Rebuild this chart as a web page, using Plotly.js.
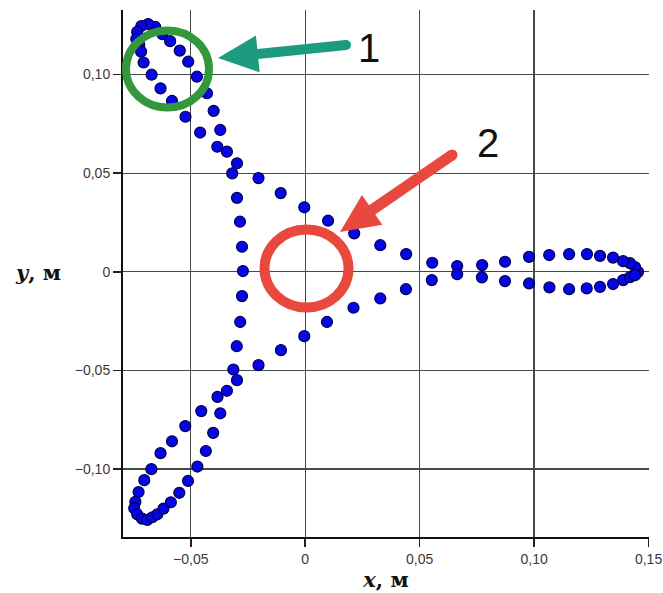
<!DOCTYPE html>
<html>
<head>
<meta charset="utf-8">
<script src="https://cdn.plot.ly/plotly-3.0.1.min.js"></script>
<style>html,body{margin:0;padding:0;background:#fff;}#chart{width:663px;height:593px;}</style>
</head>
<body>
<div id="chart"></div>
<script>
// ---- data, metres ----
const xs = [
  0.1454, 0.1441, 0.1419, 0.1389, 0.1345, 0.1288, 0.1231, 0.1153, 0.1066, 0.0978,
  0.0873, 0.0773, 0.0664, 0.0555, 0.0441, 0.0328, 0.0214, 0.0100, -0.0004, -0.0107,
  -0.0204, -0.0298, -0.0342, -0.0371, -0.0400, -0.0429, -0.0473, -0.0511, -0.0548, -0.0590,
  -0.0624, -0.0655, -0.0686, -0.0716, -0.0734, -0.0738, -0.0725, -0.0717, -0.0706, -0.0671,
  -0.0632, -0.0582, -0.0523, -0.0459, -0.0384, -0.0319, -0.0298, -0.0285, -0.0276, -0.0272,
  -0.0276, -0.0284, -0.0299, -0.0314, -0.0383, -0.0454, -0.0524, -0.0582, -0.0632, -0.0672,
  -0.0703, -0.0728, -0.0742, -0.0747, -0.0734, -0.0713, -0.0690, -0.0668, -0.0646, -0.0619,
  -0.0587, -0.0550, -0.0512, -0.0471, -0.0434, -0.0402, -0.0371, -0.0342, -0.0298, -0.0204,
  -0.0106, -0.0004, 0.0095, 0.0211, 0.0328, 0.0440, 0.0553, 0.0664, 0.0772, 0.0873,
  0.0978, 0.1067, 0.1153, 0.1230, 0.1288, 0.1345, 0.1389, 0.1419, 0.1441
];
const ys = [
  0.0000, 0.0024, 0.0044, 0.0054, 0.0072, 0.0081, 0.0090, 0.0090, 0.0085, 0.0076,
  0.0051, 0.0034, 0.0029, 0.0046, 0.0090, 0.0135, 0.0195, 0.0259, 0.0327, 0.0399,
  0.0475, 0.0550, 0.0609, 0.0719, 0.0816, 0.0905, 0.0989, 0.1065, 0.1121, 0.1169,
  0.1205, 0.1241, 0.1256, 0.1246, 0.1216, 0.1180, 0.1150, 0.1116, 0.1061, 0.0999,
  0.0930, 0.0866, 0.0786, 0.0706, 0.0634, 0.0499, 0.0375, 0.0254, 0.0127, 0.0004,
  -0.0123, -0.0254, -0.0377, -0.0495, -0.0634, -0.0706, -0.0782, -0.0859, -0.0919, -0.1000,
  -0.1056, -0.1116, -0.1166, -0.1198, -0.1229, -0.1251, -0.1257, -0.1244, -0.1229, -0.1200,
  -0.1168, -0.1120, -0.1060, -0.0987, -0.0908, -0.0816, -0.0717, -0.0603, -0.0549, -0.0473,
  -0.0397, -0.0326, -0.0254, -0.0182, -0.0135, -0.0088, -0.0042, -0.0012, -0.0028, -0.0047,
  -0.0059, -0.0079, -0.0088, -0.0084, -0.0076, -0.0062, -0.0042, -0.0027, -0.0017
];
const xTickVals = [-0.05, 0, 0.05, 0.10, 0.15];
const xTickText = ['\u22120,05', '0', '0,05', '0,10', '0,15'];
const yTickVals = [-0.10, -0.05, 0, 0.05, 0.10];
const yTickText = ['\u22120,10', '\u22120,05', '0', '0,05', '0,10'];
const xTitle = '<b><i>x</i>, м</b>';
const yTitle = '<b><i>y</i>, м</b>';
const label1 = '1';
const label2 = '2';

// ---- layout geometry (pixels) ----
const W = 663, H = 593;
const M = {l: 123, r: 14, t: 10, b: 56};
const PW = W - M.l - M.r, PH = H - M.t - M.b;
const px = v => (v - M.l) / PW;
const py = v => (H - M.b - v) / PH;

function arrowPath(tip, tail, headLen, headHalf, shaftHalf) {
  const dx = tail[0] - tip[0], dy = tail[1] - tip[1];
  const L = Math.hypot(dx, dy), ux = dx / L, uy = dy / L;
  const nx = -uy, ny = ux;
  const bx = tip[0] + ux * headLen, by = tip[1] + uy * headLen;
  const pts = [
    tip,
    [bx + nx * headHalf, by + ny * headHalf],
    [bx + nx * shaftHalf, by + ny * shaftHalf],
    [tail[0] + nx * shaftHalf, tail[1] + ny * shaftHalf],
    [tail[0] - nx * shaftHalf, tail[1] - ny * shaftHalf],
    [bx - nx * shaftHalf, by - ny * shaftHalf],
    [bx - nx * headHalf, by - ny * headHalf]
  ];
  return 'M' + pts.map(p => px(p[0]).toFixed(5) + ',' + py(p[1]).toFixed(5)).join('L') + 'Z';
}
function ring(cx, cy, rx, ry, color, w) {
  return {type: 'circle', xref: 'paper', yref: 'paper',
    x0: px(cx - rx), x1: px(cx + rx), y0: py(cy + ry), y1: py(cy - ry),
    line: {color: color, width: w}, fillcolor: 'rgba(0,0,0,0)', layer: 'above'};
}
function dot(cx, cy, r, color) {
  return {type: 'circle', xref: 'paper', yref: 'paper',
    x0: px(cx - r), x1: px(cx + r), y0: py(cy + r), y1: py(cy - r),
    line: {width: 0}, fillcolor: color, layer: 'above'};
}

const teal = '#1c9b80', red = '#e8483e', green = '#33973c';
const gridColor = '#414c46';
const titleFont = {family: 'DejaVu Serif, Liberation Serif, serif', size: 21, color: '#111'};

const trace = {
  x: xs, y: ys, type: 'scatter', mode: 'markers',
  marker: {size: 11, color: '#0505e6', line: {color: '#000050', width: 1.2}},
  hoverinfo: 'skip', cliponaxis: false
};

const axisCommon = {
  showgrid: true, gridcolor: gridColor, gridwidth: 1.3,
  zeroline: false, showline: true, linecolor: '#111', linewidth: 2,
  ticks: 'outside', ticklen: 8, tickwidth: 1.5, tickcolor: '#222',
  tickfont: {family: 'Liberation Sans, Arial, sans-serif', size: 14, color: '#3a3a3a'},
  fixedrange: true
};

const layout = {
  width: W, height: H,
  margin: M,
  paper_bgcolor: '#fff', plot_bgcolor: '#fff',
  showlegend: false,
  xaxis: Object.assign({}, axisCommon, {
    range: [-0.0796, 0.1502],
    tickmode: 'array', tickvals: xTickVals, ticktext: xTickText,
    title: {text: xTitle, font: titleFont, standoff: 5}
  }),
  yaxis: Object.assign({}, axisCommon, {
    range: [-0.1344, 0.1327],
    tickmode: 'array', tickvals: yTickVals, ticktext: yTickText
  }),
  shapes: [
    ring(167.5, 69, 41.5, 38.5, green, 8),
    ring(306.5, 268.5, 42, 39, red, 10),
    {type: 'path', xref: 'paper', yref: 'paper', path: arrowPath([218, 58], [346, 45], 40, 18.5, 5),
      fillcolor: teal, line: {width: 0}, layer: 'above'},
    dot(346, 45, 5, teal),
    {type: 'path', xref: 'paper', yref: 'paper', path: arrowPath([340, 232], [452, 155], 39, 18, 5.5),
      fillcolor: red, line: {width: 0}, layer: 'above'},
    dot(452, 155, 5.5, red)
  ],
  annotations: [
    {xref: 'paper', yref: 'paper', x: px(38), y: py(272), xanchor: 'center', yanchor: 'middle',
      text: yTitle, showarrow: false, font: titleFont},
    {xref: 'paper', yref: 'paper', x: px(369), y: py(48), xanchor: 'center', yanchor: 'middle',
      text: label1, showarrow: false,
      font: {family: 'Liberation Sans, Arial, sans-serif', size: 40, color: '#111'}},
    {xref: 'paper', yref: 'paper', x: px(488), y: py(143), xanchor: 'center', yanchor: 'middle',
      text: label2, showarrow: false,
      font: {family: 'Liberation Sans, Arial, sans-serif', size: 40, color: '#111'}}
  ]
};

Plotly.newPlot('chart', [trace], layout, {displayModeBar: false, staticPlot: true});
</script>
</body>
</html>
